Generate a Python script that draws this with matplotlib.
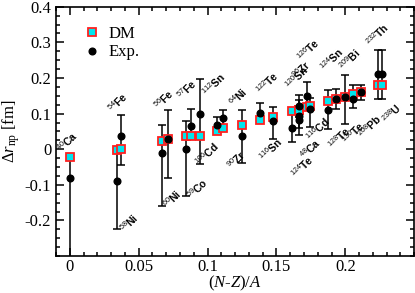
import numpy as np
import matplotlib
matplotlib.use('Agg')
import matplotlib.pyplot as plt
from matplotlib.ticker import MultipleLocator

# (N-Z)/A of each nucleus
x_vals = [0.0, 0.0345, 0.037, 0.0667, 0.0714, 0.0847, 0.0877, 0.0943, 0.107, 0.111,
          0.125, 0.138, 0.1475, 0.161, 0.1667, 0.1667, 0.1667, 0.1724, 0.1746, 0.1875,
          0.1935, 0.2, 0.2057, 0.2115, 0.2241, 0.2269]
# DM model values
dm_vals = [-0.022, -0.003, 0.0, 0.022, 0.029, 0.038, 0.038, 0.038, 0.052, 0.059,
           0.069, 0.081, 0.090, 0.106, 0.111, 0.111, 0.111, 0.118, 0.120, 0.134,
           0.141, 0.148, 0.155, 0.162, 0.181, 0.181]
# experimental values and error bar ends
exp_vals = [-0.081, -0.09, 0.036, -0.011, 0.029, 0.0, 0.064, 0.099, 0.069, 0.089,
            0.038, 0.101, 0.080, 0.059, 0.092, 0.12, 0.083, 0.15, 0.113, 0.111,
            0.141, 0.148, 0.141, 0.16, 0.211, 0.211]
exp_low = [-0.33, -0.225, -0.043, -0.16, -0.081, -0.132, 0.035, -0.041, 0.045, 0.055,
           -0.039, 0.073, 0.029, 0.019, 0.041, 0.09, 0.06, 0.12, 0.062, 0.056,
           0.113, 0.071, 0.115, 0.139, 0.141, 0.141]
exp_high = [-0.025, 0.0, 0.097, 0.069, 0.109, 0.08, 0.113, 0.197, 0.09, 0.111,
            0.109, 0.129, 0.118, 0.1, 0.139, 0.153, 0.11, 0.19, 0.143, 0.167,
            0.17, 0.209, 0.181, 0.181, 0.279, 0.279]

# nucleus labels: mass number, element, label position
lab_mass = ['40', '54', '58', '56', '57', '112', '60', '59', '106', '64', '90', '122', '116',
            '96', '120', '126', '124', '209', '232', '124', '48', '116', '128', '130', '208', '238']
lab_elem = ['Ca', 'Fe', 'Ni', 'Fe', 'Fe', 'Sn', 'Ni', 'Co', 'Cd', 'Ni', 'Zr', 'Te', 'Sn',
            'Zr', 'Sn', 'Te', 'Sn', 'Bi', 'Th', 'Te', 'Ca', 'Cd', 'Te', 'Te', 'Pb', 'U']
lab_x = [-0.002, 0.035, 0.043, 0.0683, 0.0854, 0.1046, 0.0741, 0.093, 0.0995, 0.122, 0.1212,
         0.1437, 0.1459, 0.1683, 0.1647, 0.1734, 0.19, 0.2031, 0.2234, 0.169, 0.1749, 0.18,
         0.1959, 0.206, 0.2176, 0.2336]
lab_y = [0.021, 0.132, -0.206, 0.141, 0.167, 0.181, -0.139, -0.111, -0.015, 0.147, -0.029,
         0.186, -0.001, 0.223, 0.2, 0.279, 0.251, 0.251, 0.321, -0.049, 0.0, 0.055,
         0.032, 0.046, 0.063, 0.099]

plt.rcParams['font.family'] = 'Liberation Serif'
plt.rcParams['mathtext.fontset'] = 'custom'
plt.rcParams['mathtext.rm'] = 'Liberation Serif'
plt.rcParams['mathtext.it'] = 'Liberation Serif:italic'
plt.rcParams['mathtext.sf'] = 'Liberation Sans'

fig = plt.figure(figsize=(4.15, 2.93), dpi=100)
ax = fig.add_axes([0.135, 0.126, 0.863, 0.851])

x = np.array(x_vals)
e = np.array(exp_vals)
yerr = [e - np.array(exp_low), np.array(exp_high) - e]

ax.errorbar(x, e, yerr=yerr, fmt='none', ecolor='black', elinewidth=1.1,
            capsize=3.2, capthick=1.1, zorder=1)
ax.plot(x, dm_vals, 's', ms=6.3, mfc='#00e5ee', mec='#ff2020', mew=1.3,
        label='DM', zorder=2)
ax.plot(x, e, 'o', ms=4.8, color='black', label='Exp.', zorder=3)

for m, el, lx, ly in zip(lab_mass, lab_elem, lab_x, lab_y):
    ax.text(lx, ly, r'$\mathsf{^{%s}}$%s' % (m, el), rotation=45, fontsize=7.5,
            family='Liberation Sans', fontweight='bold',
            ha='center', va='center', zorder=4)

ax.set_xlim(-0.01, 0.25)
ax.set_ylim(-0.3, 0.4)
ax.xaxis.set_major_locator(MultipleLocator(0.05))
ax.xaxis.set_minor_locator(MultipleLocator(0.01))
ax.yaxis.set_major_locator(MultipleLocator(0.1))
ax.yaxis.set_minor_locator(MultipleLocator(0.025))
ax.set_xticks([0, 0.05, 0.1, 0.15, 0.2])
ax.set_xticklabels(['0', '0.05', '0.1', '0.15', '0.2'])
ax.set_yticks([-0.2, -0.1, 0, 0.1, 0.2, 0.3, 0.4])
ax.set_yticklabels(['-0.2', '-0.1', '0', '0.1', '0.2', '0.3', '0.4'])
ax.tick_params(which='both', direction='in', top=True, right=True, labelsize=12, width=1.1)
ax.tick_params(axis='x', pad=2)
ax.tick_params(which='major', length=6)
ax.tick_params(which='minor', length=3)
for sp in ax.spines.values():
    sp.set_linewidth(1.2)

ax.set_xlabel(r'$(N$-$Z)/A$', fontsize=12, labelpad=-1)
ax.set_ylabel(r'$\Delta r_{\rm np}$ [fm]', fontsize=12, labelpad=2)

ax.legend(loc='upper left', bbox_to_anchor=(0.045, 0.97), frameon=False, fontsize=12,
          handlelength=1.0, handletextpad=0.5, labelspacing=0.15, borderpad=0.2)

fig.savefig('out.png', dpi=100)
